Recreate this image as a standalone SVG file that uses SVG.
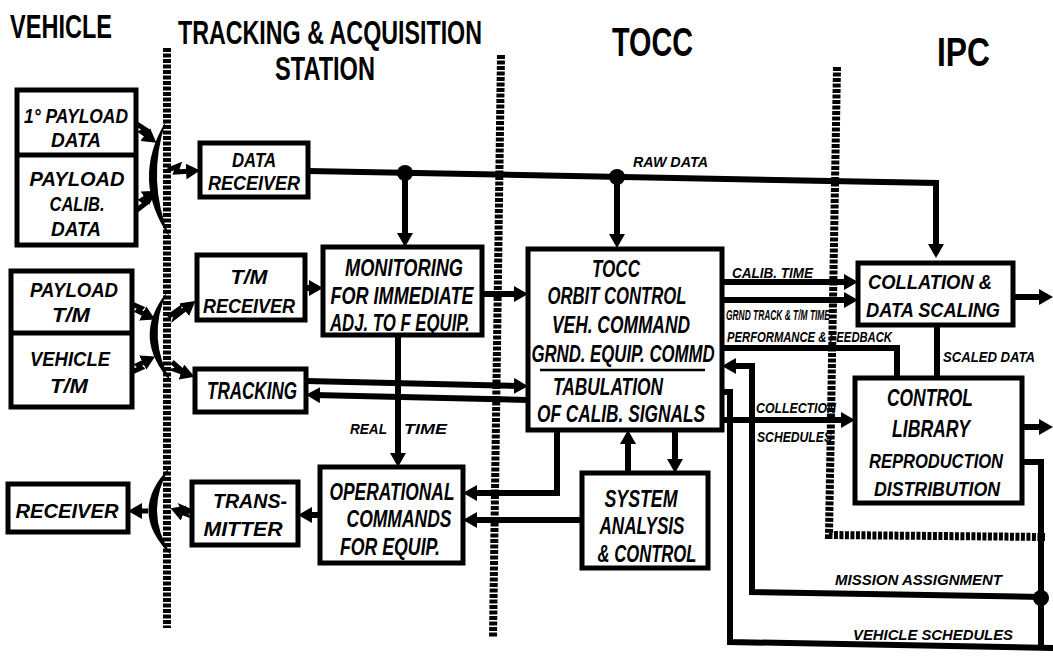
<svg xmlns="http://www.w3.org/2000/svg" width="1053" height="657" viewBox="0 0 1053 657">
<style>
.hdr{font-family:"Liberation Sans",Arial,sans-serif;font-weight:bold;fill:#000}
.bt{font-family:"Liberation Sans",Arial,sans-serif;font-weight:bold;font-style:italic;font-size:21px;fill:#000;text-anchor:middle}
.bl{font-size:23px}
.lb{font-family:"Liberation Sans",Arial,sans-serif;font-weight:bold;font-style:italic;font-size:14px;fill:#000}
.box{fill:#fff;stroke:#000;stroke-width:5}
.ln{fill:none;stroke:#000;stroke-width:6;stroke-linejoin:miter}
.ar{fill:none;stroke:#000;stroke-width:6;marker-end:url(#ah)}
.bead{fill:none;stroke:#000;stroke-width:8;stroke-dasharray:4 1.5}
.sl{fill:none;stroke:#000;stroke-width:5;marker-end:url(#ah)}
</style>
<defs>
<marker id="ah" markerWidth="16" markerHeight="16" refX="6" refY="8" orient="auto" markerUnits="userSpaceOnUse">
<path d="M0,0 L14,8 L0,16 z" fill="#000"/>
</marker>
</defs>
<rect width="1053" height="657" fill="#fff"/>

<g id="headers">
<text class="hdr" x="10" y="38" font-size="33" textLength="102" lengthAdjust="spacingAndGlyphs">VEHICLE</text>
<text class="hdr" x="178" y="44" font-size="34" textLength="304" lengthAdjust="spacingAndGlyphs">TRACKING &amp; ACQUISITION</text>
<text class="hdr" x="275" y="80" font-size="34" textLength="100" lengthAdjust="spacingAndGlyphs">STATION</text>
<text class="hdr" x="612" y="56" font-size="40" textLength="81" lengthAdjust="spacingAndGlyphs">TOCC</text>
<text class="hdr" x="937" y="66" font-size="40" textLength="53" lengthAdjust="spacingAndGlyphs">IPC</text>
</g>

<g id="boundaries">
<path class="bead" d="M167,48 V628"/>
<path class="bead" d="M501,55 L493,638"/>
<path class="bead" d="M837,67 L829,535 L1045,537"/>
</g>

<g id="antennas">
<path d="M166,121 Q130,180 170,238 Q146,180 166,121 z" fill="#000"/>
<path d="M167,292 Q130,338 172,383 Q146,338 167,292 z" fill="#000"/>
<path d="M170,467 Q126,512 172,556 Q143,512 170,467 z" fill="#000"/>
</g>

<g id="connectors">
<path class="sl" d="M137,124 L146,130 L142,132 L150,138"/>
<path class="sl" d="M137,210 L146,203 L142,200 L150,195"/>
<path class="sl" d="M168,170 L178,166 L176,172 L192,171"/>
<path class="sl" d="M132,304 L141,308 L138,311 L148,316"/>
<path class="sl" d="M132,372 L141,368 L138,365 L148,360"/>
<path class="sl" d="M168,317 L178,310 L176,316 L189,306"/>
<path class="sl" d="M172,362 L180,369 L176,370 L187,374"/>
<path class="sl" d="M192,512 L183,508 L186,514 L178,511"/>
<path class="sl" d="M148,511 L136,511"/>
<path class="ln" d="M308,171 L936,183 V250" style="marker-end:url(#ah)"/>
<circle cx="405" cy="173" r="8" fill="#000"/>
<circle cx="617" cy="177" r="8" fill="#000"/>
<path class="ar" d="M405,173 V239"/>
<path class="ar" d="M617,177 V240"/>
<path class="ar" d="M305,288 H315"/>
<path class="ar" d="M482,294 H520"/>
<path class="ar" d="M306,381 L520,386"/>
<path class="ar" d="M528,400 L314,395"/>
<path class="ar" d="M398,335 V459"/>
<path class="ar" d="M557,430 V493 H471"/>
<path class="ar" d="M582,520 H471"/>
<path class="ar" d="M320,515 H306"/>
<path class="ar" d="M628,473 V438"/>
<path class="ar" d="M675,430 V465"/>
<path class="ar" d="M722,282 H850"/>
<path class="ar" d="M722,300 H850"/>
<path class="ln" d="M897,378 V348 H722"/>
<path class="ln" d="M937,325 V378"/>
<path class="ar" d="M1013,297 H1045"/>
<path class="ar" d="M1022,427 H1045"/>
<path class="ar" d="M722,420 H847"/>
<path class="ln" d="M1022,462 H1041 V647"/>
<path class="ar" d="M1041,597 L752,592 V366 H730"/>
<path class="ln" d="M722,392 H730 V642 L1053,648"/>
<circle cx="1041" cy="598" r="8" fill="#000"/>
</g>

<g id="labels">
<text class="lb" x="633" y="167" textLength="75" lengthAdjust="spacingAndGlyphs">RAW DATA</text>
<text class="lb" x="732" y="278" textLength="81" lengthAdjust="spacingAndGlyphs">CALIB. TIME</text>
<text class="lb" transform="translate(726,320) scale(0.6,1)">GRND TRACK &amp; T/M TIME</text>
<text class="lb" x="727" y="342" textLength="165" lengthAdjust="spacingAndGlyphs">PERFORMANCE &amp; FEEDBACK</text>
<text class="lb" x="943" y="362" textLength="92" lengthAdjust="spacingAndGlyphs">SCALED DATA</text>
<text class="lb" x="350" y="434" textLength="37" lengthAdjust="spacingAndGlyphs">REAL</text>
<text class="lb" x="404" y="434" textLength="43" lengthAdjust="spacingAndGlyphs">TIME</text>
<text class="lb" x="756" y="413" textLength="80" lengthAdjust="spacingAndGlyphs">COLLECTION</text>
<text class="lb" x="757" y="442" textLength="75" lengthAdjust="spacingAndGlyphs">SCHEDULES</text>
<text class="lb" x="835" y="585" textLength="167" lengthAdjust="spacingAndGlyphs">MISSION ASSIGNMENT</text>
<text class="lb" x="853" y="640" textLength="160" lengthAdjust="spacingAndGlyphs">VEHICLE SCHEDULES</text>
</g>

<g id="payload-data">
<rect class="box" x="17" y="90" width="119" height="155"/>
<line x1="17" y1="155" x2="136" y2="155" stroke="#000" stroke-width="5"/>
<text class="bt" x="76" y="123" textLength="104" lengthAdjust="spacingAndGlyphs">1° PAYLOAD</text>
<text class="bt" x="76" y="147" textLength="50" lengthAdjust="spacingAndGlyphs">DATA</text>
<text class="bt" x="77" y="186" textLength="95" lengthAdjust="spacingAndGlyphs">PAYLOAD</text>
<text class="bt" x="77" y="211" textLength="55" lengthAdjust="spacingAndGlyphs">CALIB.</text>
<text class="bt" x="76" y="236" textLength="50" lengthAdjust="spacingAndGlyphs">DATA</text>
</g>

<g id="vehicle-tm">
<rect class="box" x="11" y="271" width="121" height="136"/>
<line x1="11" y1="333" x2="132" y2="333" stroke="#000" stroke-width="5"/>
<text class="bt" x="74" y="297" textLength="88" lengthAdjust="spacingAndGlyphs">PAYLOAD</text>
<text class="bt" x="71" y="322" textLength="38" lengthAdjust="spacingAndGlyphs">T/M</text>
<text class="bt" x="70" y="366" textLength="80" lengthAdjust="spacingAndGlyphs">VEHICLE</text>
<text class="bt" x="69" y="393" textLength="38" lengthAdjust="spacingAndGlyphs">T/M</text>
</g>

<g id="receiver">
<rect class="box" x="8" y="484" width="120" height="48"/>
<text class="bt" x="67" y="518" font-size="26" textLength="103" lengthAdjust="spacingAndGlyphs">RECEIVER</text>
</g>

<g id="data-receiver">
<rect class="box" x="200" y="143" width="108" height="54"/>
<text class="bt" x="254" y="167" font-size="20" textLength="44" lengthAdjust="spacingAndGlyphs">DATA</text>
<text class="bt" x="254" y="190" font-size="20" textLength="92" lengthAdjust="spacingAndGlyphs">RECEIVER</text>
</g>

<g id="tm-receiver">
<rect class="box" x="197" y="255" width="108" height="65"/>
<text class="bt" x="249" y="284" textLength="37" lengthAdjust="spacingAndGlyphs">T/M</text>
<text class="bt" x="249" y="313" textLength="92" lengthAdjust="spacingAndGlyphs">RECEIVER</text>
</g>

<g id="tracking">
<rect class="box" x="195" y="369" width="111" height="43"/>
<text class="bt bl" x="252" y="399" textLength="90" lengthAdjust="spacingAndGlyphs">TRACKING</text>
</g>

<g id="transmitter">
<rect class="box" x="192" y="482" width="106" height="63"/>
<text class="bt" x="250" y="508" textLength="74" lengthAdjust="spacingAndGlyphs">TRANS-</text>
<text class="bt" x="243" y="536" textLength="79" lengthAdjust="spacingAndGlyphs">MITTER</text>
</g>

<g id="monitoring">
<rect class="box" x="323" y="247" width="159" height="88"/>
<text class="bt bl" x="404" y="276" textLength="118" lengthAdjust="spacingAndGlyphs">MONITORING</text>
<text class="bt bl" x="402" y="304" textLength="143" lengthAdjust="spacingAndGlyphs">FOR IMMEDIATE</text>
<text class="bt bl" x="400" y="331" textLength="140" lengthAdjust="spacingAndGlyphs">ADJ. TO F EQUIP.</text>
</g>

<g id="operational">
<rect class="box" x="320" y="467" width="143" height="96"/>
<text class="bt bl" x="392" y="500" textLength="125" lengthAdjust="spacingAndGlyphs">OPERATIONAL</text>
<text class="bt bl" x="399" y="527" textLength="105" lengthAdjust="spacingAndGlyphs">COMMANDS</text>
<text class="bt bl" x="390" y="555" textLength="100" lengthAdjust="spacingAndGlyphs">FOR EQUIP.</text>
</g>

<g id="tocc">
<rect class="box" x="528" y="249" width="194" height="181"/>
<text class="bt bl" x="616" y="277" textLength="48" lengthAdjust="spacingAndGlyphs">TOCC</text>
<text class="bt bl" x="617" y="304" textLength="139" lengthAdjust="spacingAndGlyphs">ORBIT CONTROL</text>
<text class="bt bl" x="621" y="333" textLength="138" lengthAdjust="spacingAndGlyphs">VEH. COMMAND</text>
<text class="bt bl" x="623" y="362" textLength="183" lengthAdjust="spacingAndGlyphs">GRND. EQUIP. COMMD</text>
<line x1="540" y1="370" x2="705" y2="370" stroke="#000" stroke-width="2.5"/>
<text class="bt bl" x="608" y="395" textLength="110" lengthAdjust="spacingAndGlyphs">TABULATION</text>
<text class="bt bl" x="621" y="422" textLength="168" lengthAdjust="spacingAndGlyphs">OF CALIB. SIGNALS</text>
</g>

<g id="system-analysis">
<rect class="box" x="582" y="473" width="126" height="95"/>
<text class="bt bl" x="641" y="507" textLength="73" lengthAdjust="spacingAndGlyphs">SYSTEM</text>
<text class="bt bl" x="642" y="534" textLength="85" lengthAdjust="spacingAndGlyphs">ANALYSIS</text>
<text class="bt bl" x="647" y="562" textLength="99" lengthAdjust="spacingAndGlyphs">&amp; CONTROL</text>
</g>

<g id="collation">
<rect class="box" x="858" y="263" width="155" height="62"/>
<text class="bt" x="930" y="289" textLength="124" lengthAdjust="spacingAndGlyphs">COLLATION &amp;</text>
<text class="bt" x="933" y="317" textLength="134" lengthAdjust="spacingAndGlyphs">DATA SCALING</text>
</g>

<g id="control-library">
<rect class="box" x="855" y="378" width="167" height="125"/>
<text class="bt bl" x="930" y="406" textLength="86" lengthAdjust="spacingAndGlyphs">CONTROL</text>
<text class="bt bl" x="931" y="437" textLength="78" lengthAdjust="spacingAndGlyphs">LIBRARY</text>
<text class="bt" x="936" y="468" textLength="134" lengthAdjust="spacingAndGlyphs">REPRODUCTION</text>
<text class="bt" x="937" y="496" textLength="126" lengthAdjust="spacingAndGlyphs">DISTRIBUTION</text>
</g>
</svg>
